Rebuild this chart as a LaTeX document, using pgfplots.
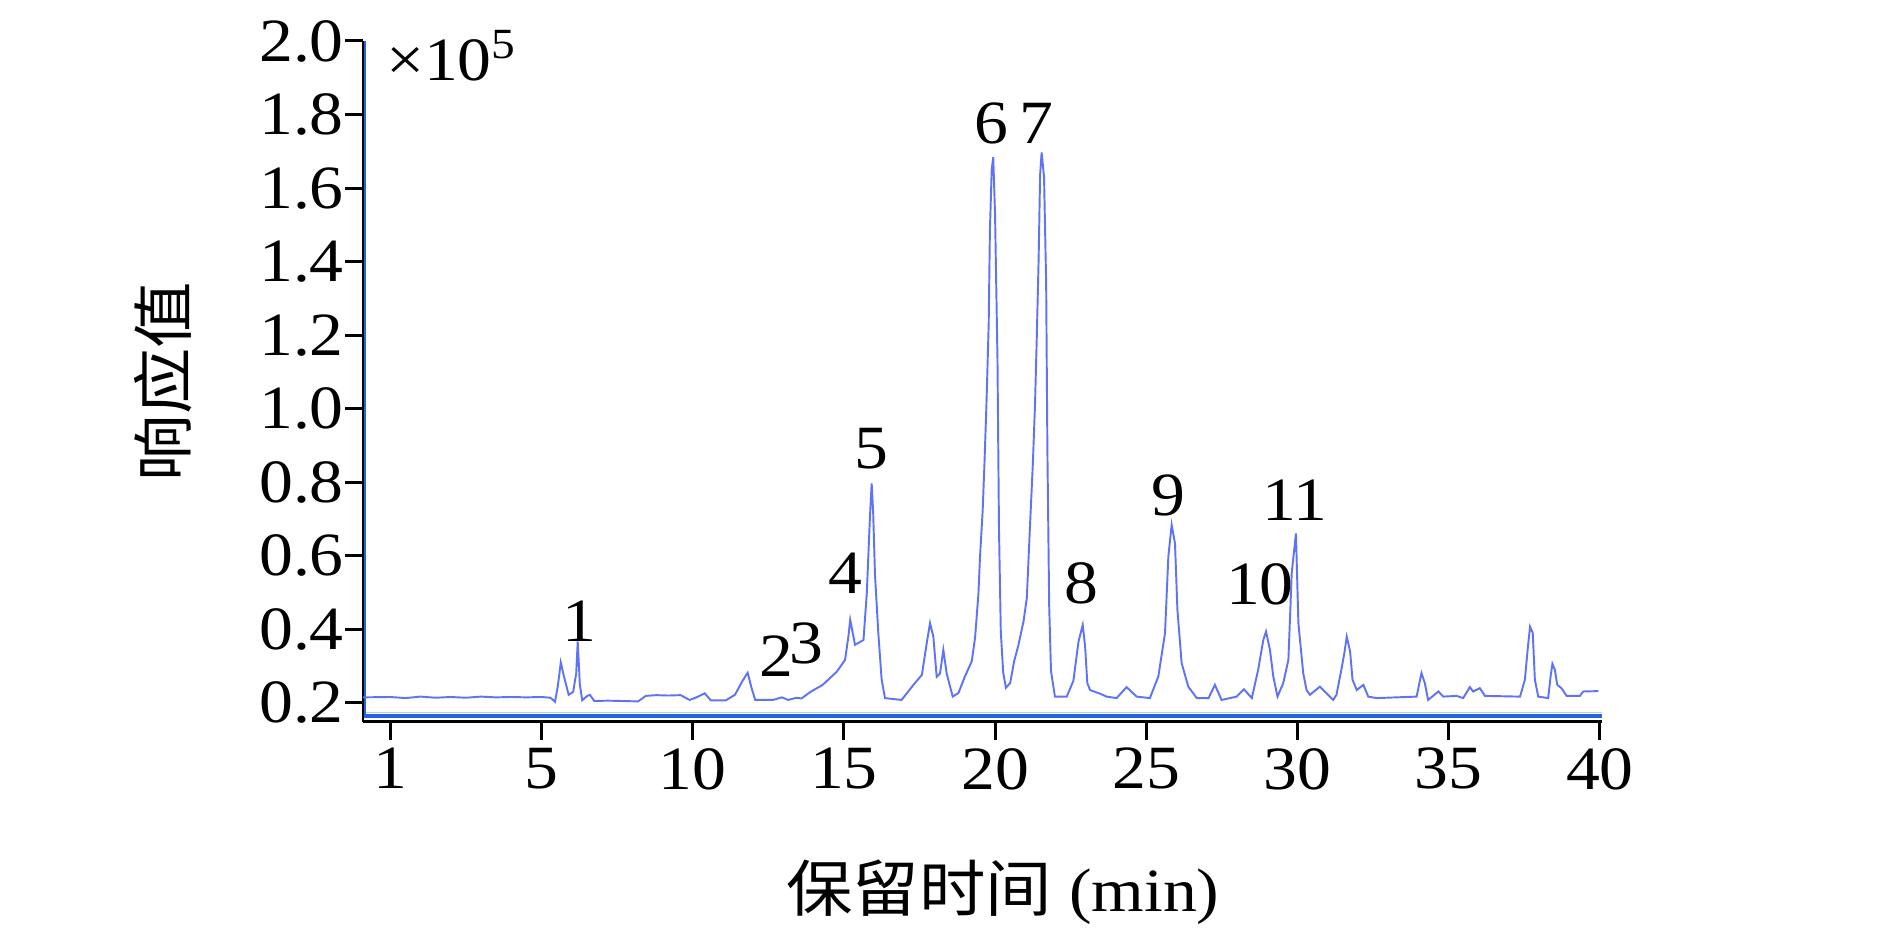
\documentclass[border=0pt]{standalone}
\usepackage{fontspec}
\setmainfont{Liberation Serif}[FakeStretch=1.1]
\newfontfamily\cjk{Noto Sans CJK SC}[FakeStretch=1.08]
\usepackage{pgfplots}
\pgfplotsset{compat=1.18}
\definecolor{trace}{RGB}{95,115,245}
\definecolor{basethick}{RGB}{35,100,230}
\definecolor{baselight}{RGB}{185,205,250}
\begin{document}
\fontsize{17.5}{21}\selectfont
\begin{tikzpicture}
\useasboundingbox (0,0) rectangle (189mm,93.3mm);
\begin{axis}[
  at={(36.3mm,21.1mm)}, anchor=south west,
  scale only axis, width=123.9mm, height=68.1mm,
  xmin=-0.9, xmax=40.07, ymin=0.148, ymax=2.0,
  axis lines*=left,
  axis line style={line width=0.85pt, black},
  tick align=outside,
  major tick length=1.8mm,
  every tick/.style={black, line width=0.85pt},
  xtick={0,5,10,15,20,25,30,35,40},
  xticklabels={\mbox{1},\mbox{5},\mbox{10},\mbox{15},\mbox{20},\mbox{25},\mbox{30},\mbox{35},\mbox{40}},
  ytick={0.2,0.4,0.6,0.8,1.0,1.2,1.4,1.6,1.8,2.0},
  yticklabels={\mbox{0.2},\mbox{0.4},\mbox{0.6},\mbox{0.8},\mbox{1.0},\mbox{1.2},\mbox{1.4},\mbox{1.6},\mbox{1.8},\mbox{2.0}},
  tick label style={font=\fontsize{17.5}{21}\selectfont},
  xticklabel style={yshift=1.3mm},
  yticklabel style={xshift=2.0mm},
  label style={font=\fontsize{17.5}{21}\selectfont},
  xlabel={{\cjk 保留时间} (min)},
  ylabel={\cjk 响应值},
  xlabel style={at={(axis description cs:0.5165,-0.2496)}, anchor=center},
  ylabel style={at={(axis description cs:-0.1614,0.5)}, anchor=center},
  clip=false,
]
\addplot[baselight, line width=0.5pt] coordinates {(-0.87,0.174) (40.07,0.174)};
\addplot[basethick, line width=1.1pt] coordinates {(-0.87,0.164) (40.07,0.164)};
\addplot[basethick, line width=0.6pt] coordinates {(-0.83,0.164) (-0.83,2.0)};
\addplot[trace, line width=0.55pt] coordinates {
(-0.9,0.215) (0,0.216) (0.5,0.213) (1,0.217) (1.5,0.214) (2,0.216) (2.5,0.214) (3,0.217) (3.5,0.215) (4,0.216) (4.5,0.215) (5,0.216) (5.3,0.214) (5.45,0.203) (5.55,0.25) (5.64,0.31) (5.75,0.27) (5.9,0.222) (6.05,0.23) (6.15,0.28) (6.2,0.367) (6.27,0.25) (6.35,0.207) (6.5,0.218) (6.6,0.222) (6.75,0.205) (7.2,0.206) (7.7,0.205) (8.2,0.204) (8.45,0.219) (8.8,0.221) (9.2,0.22) (9.6,0.221) (9.9,0.208) (10.1,0.214) (10.4,0.226) (10.6,0.207) (11.1,0.207) (11.4,0.222) (11.65,0.26) (11.82,0.282) (11.95,0.24) (12.07,0.208) (12.66,0.208) (12.95,0.215) (13.16,0.208) (13.44,0.214) (13.6,0.212) (13.88,0.229) (14.3,0.249) (14.77,0.285) (15.04,0.317) (15.15,0.38) (15.21,0.426) (15.37,0.358) (15.65,0.371) (15.76,0.5) (15.86,0.7) (15.92,0.797) (15.97,0.717) (16.03,0.548) (16.14,0.39) (16.25,0.263) (16.36,0.213) (16.91,0.208) (17.3,0.249) (17.58,0.276) (17.74,0.362) (17.85,0.417) (17.96,0.38) (18.07,0.271) (18.18,0.28) (18.29,0.344) (18.4,0.28) (18.6,0.217) (18.79,0.227) (19.0,0.271) (19.23,0.313) (19.34,0.378) (19.45,0.496) (19.5,0.593) (19.59,0.722) (19.65,0.851) (19.72,1.023) (19.79,1.232) (19.83,1.485) (19.89,1.651) (19.94,1.684) (20.0,1.528) (20.08,1.136) (20.13,0.673) (20.19,0.394) (20.27,0.282) (20.36,0.241) (20.5,0.254) (20.63,0.313) (20.77,0.356) (20.94,0.421) (21.05,0.485) (21.16,0.689) (21.25,0.851) (21.32,1.007) (21.38,1.195) (21.44,1.404) (21.49,1.636) (21.54,1.697) (21.62,1.63) (21.69,1.34) (21.73,0.894) (21.79,0.464) (21.85,0.287) (21.98,0.217) (22.37,0.217) (22.59,0.26) (22.76,0.367) (22.9,0.412) (22.98,0.351) (23.05,0.254) (23.14,0.235) (23.47,0.225) (23.69,0.217) (24.02,0.213) (24.35,0.243) (24.68,0.217) (25.12,0.213) (25.4,0.272) (25.62,0.39) (25.73,0.598) (25.84,0.684) (25.95,0.634) (26.03,0.453) (26.17,0.308) (26.39,0.244) (26.67,0.213) (27.06,0.213) (27.27,0.249) (27.49,0.208) (27.99,0.217) (28.23,0.237) (28.49,0.213) (28.7,0.29) (28.87,0.371) (28.96,0.394) (29.09,0.344) (29.2,0.272) (29.34,0.217) (29.53,0.254) (29.7,0.317) (29.81,0.553) (29.95,0.661) (30.03,0.417) (30.19,0.281) (30.3,0.235) (30.41,0.222) (30.74,0.244) (31.18,0.208) (31.29,0.222) (31.46,0.294) (31.55,0.335) (31.63,0.38) (31.74,0.34) (31.82,0.263) (31.96,0.235) (32.18,0.249) (32.34,0.217) (32.62,0.213) (33.94,0.217) (34.1,0.281) (34.21,0.254) (34.32,0.208) (34.66,0.231) (34.82,0.217) (35.26,0.219) (35.48,0.213) (35.7,0.243) (35.81,0.231) (36.03,0.24) (36.2,0.219) (37.36,0.217) (37.52,0.263) (37.61,0.344) (37.69,0.407) (37.78,0.39) (37.85,0.263) (37.96,0.217) (38.29,0.213) (38.37,0.272) (38.43,0.306) (38.51,0.29) (38.59,0.249) (38.73,0.24) (38.9,0.219) (39.34,0.219) (39.45,0.231) (39.95,0.232)
};
\begin{scope}[every node/.style={inner sep=0pt, anchor=center, font=\fontsize{17.5}{21}\selectfont}]
\node at (axis cs:6.25,0.423) {1};
\node at (axis cs:12.78,0.326) {2};
\node at (axis cs:13.77,0.362) {3};
\node at (axis cs:15.04,0.553) {4};
\node at (axis cs:15.92,0.892) {5};
\node at (axis cs:19.89,1.776) {6};
\node at (axis cs:21.38,1.776) {7};
\node at (axis cs:22.87,0.525) {8};
\node at (axis cs:25.73,0.765) {9};
\node at (axis cs:28.76,0.521) {10};
\node at (axis cs:29.92,0.752) {11};
\node[anchor=west] at (rel axis cs:0.018,0.979) {×10\textsuperscript{5}};
\end{scope}
\end{axis}
\end{tikzpicture}
\end{document}
